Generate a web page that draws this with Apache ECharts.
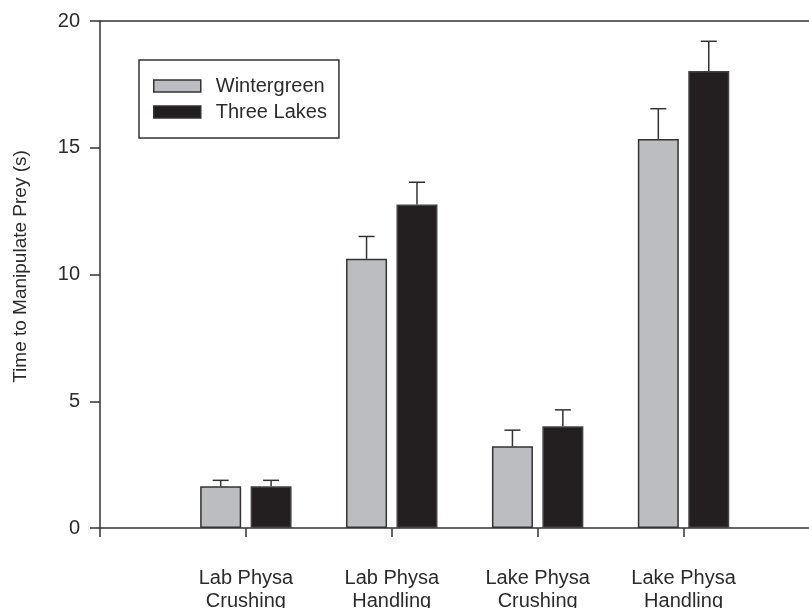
<!DOCTYPE html>
<html>
<head>
<meta charset="utf-8">
<script src="https://cdn.jsdelivr.net/npm/echarts@6/dist/echarts.min.js"></script>
<style>html,body{margin:0;padding:0;background:#fff}#c{width:809px;height:608px}</style>
</head>
<body>
<div id="c"></div>
<script>
// ---- data ----
const categories = ['Lab Physa\nCrushing', 'Lab Physa\nHandling', 'Lake Physa\nCrushing', 'Lake Physa\nHandling'];
const groupPos = [1, 2, 3, 4];
const seriesNames = ['Wintergreen', 'Three Lakes'];
const wintergreen = [1.65, 10.62, 3.22, 15.35];
const wintergreenErr = [0.23, 0.88, 0.64, 1.19];
const threeLakes = [1.65, 12.76, 4.01, 18.03];
const threeLakesErr = [0.23, 0.88, 0.65, 1.17];
const yTicks = [0, 5, 10, 15, 20];

// ---- style ----
const FONT = 'Liberation Sans';
const TXT = '#2b2b2b';
const LINE = '#333';
const BAR_W = 41;
const BAR_GAP = 0.23;
const HALF_OFF = (BAR_W + BAR_W * BAR_GAP) / 2;
const CAP = 8;

const chart = echarts.init(document.getElementById('c'), null, {renderer: 'canvas'});

function barData(vals) { return vals.map((v, i) => [groupPos[i], v]); }
function errData(vals, errs) { return vals.map((v, i) => [groupPos[i], v, v + errs[i]]); }

function errRender(offset) {
  return function (params, api) {
    const base = api.coord([api.value(0), api.value(1)]);
    const top = api.coord([api.value(0), api.value(2)]);
    const x = base[0] + offset;
    return {
      type: 'group',
      children: [
        {type: 'line', shape: {x1: x, y1: base[1], x2: x, y2: top[1]}, style: {stroke: LINE, lineWidth: 1.5}},
        {type: 'line', shape: {x1: x - CAP, y1: top[1], x2: x + CAP, y2: top[1]}, style: {stroke: LINE, lineWidth: 1.5}}
      ]
    };
  };
}

const option = {
  backgroundColor: '#fff',
  animation: false,
  textStyle: {fontFamily: FONT, color: TXT},
  grid: {left: 100, right: 0, top: 21, bottom: 80, containLabel: false, outerBoundsMode: 'none'},
  legend: {
    orient: 'vertical',
    left: 139, top: 60,
    padding: [16, 12, 16, 14],
    borderColor: LINE, borderWidth: 1.5,
    itemWidth: 47, itemHeight: 12, itemGap: 6,
    icon: 'rect',
    data: seriesNames,
    itemStyle: {borderColor: LINE, borderWidth: 1.5},
    textStyle: {fontFamily: FONT, fontSize: 20, color: TXT, padding: [0, 0, 0, 10], lineHeight: 20}
  },
  xAxis: [{
    type: 'value', min: 0, max: 4.86,
    axisLine: {show: true, lineStyle: {color: LINE, width: 1.5}},
    axisTick: {show: true, length: 9, customValues: [0].concat(groupPos), lineStyle: {color: LINE, width: 1.5}},
    axisLabel: {
      customValues: groupPos, margin: 39,
      fontFamily: FONT, fontSize: 20, color: TXT, lineHeight: 23, align: 'center',
      formatter: v => categories[groupPos.indexOf(v)] || ''
    },
    splitLine: {show: false}
  }, {
    type: 'value', min: 0, max: 4.86, position: 'top',
    axisLine: {show: true, onZero: false, lineStyle: {color: LINE, width: 1.5}},
    axisTick: {show: false}, axisLabel: {show: false}, splitLine: {show: false}
  }],
  yAxis: {
    type: 'value', min: 0, max: 20, interval: 5,
    name: 'Time to Manipulate Prey (s)', nameLocation: 'middle', nameGap: 70,
    nameTextStyle: {fontFamily: FONT, fontSize: 19, color: TXT, padding: [0, 0, 0, 16]},
    axisLine: {show: true, lineStyle: {color: LINE, width: 1.5}},
    axisTick: {show: true, length: 10, lineStyle: {color: LINE, width: 1.5}},
    axisLabel: {margin: 20, fontFamily: FONT, fontSize: 20, color: TXT,
      formatter: v => (yTicks.indexOf(v) >= 0 ? String(v) : '')},
    splitLine: {show: false}
  },
  series: [
    {name: seriesNames[0], type: 'bar', xAxisIndex: 0, data: barData(wintergreen),
      barWidth: BAR_W, barGap: (BAR_GAP * 100) + '%',
      itemStyle: {color: '#bcbdc0', borderColor: LINE, borderWidth: 1.5}},
    {name: seriesNames[1], type: 'bar', xAxisIndex: 0, data: barData(threeLakes),
      barWidth: BAR_W, barGap: (BAR_GAP * 100) + '%',
      itemStyle: {color: '#231f20', borderColor: '#444', borderWidth: 1.5}},
    {type: 'custom', xAxisIndex: 0, data: errData(wintergreen, wintergreenErr), renderItem: errRender(-HALF_OFF), z: 3},
    {type: 'custom', xAxisIndex: 0, data: errData(threeLakes, threeLakesErr), renderItem: errRender(HALF_OFF), z: 3}
  ]
};
chart.setOption(option);
</script>
</body>
</html>
